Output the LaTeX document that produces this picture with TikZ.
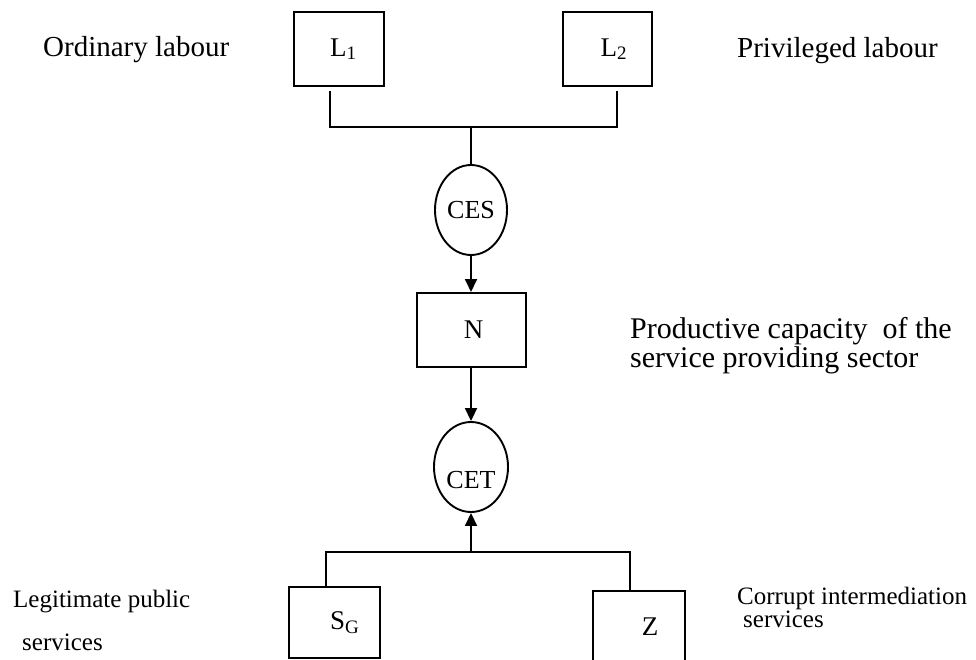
\documentclass[tikz,border=0pt]{standalone}
\usepackage{fontspec}
\setmainfont{Liberation Serif}
\usetikzlibrary{shapes.geometric,arrows.meta}
\begin{document}
\begin{tikzpicture}[x=1pt,y=-1pt,
  box/.style={draw,line width=2pt,inner sep=0pt,font=\fontsize{27}{27}\selectfont},
  oval/.style={draw,ellipse,line width=1.9pt,inner sep=0pt,minimum width=72pt,minimum height=90pt,font=\fontsize{26}{26}\selectfont},
  conn/.style={line width=1.8pt},
  arr/.style={conn,-{Triangle[length=13pt,width=12pt]}},
  biglab/.style={anchor=base west,inner sep=0pt,font=\fontsize{29}{29}\selectfont},
  midlab/.style={anchor=base west,inner sep=0pt,align=left,font=\fontsize{30}{27}\selectfont},
  smalllab/.style={anchor=base west,inner sep=0pt,font=\fontsize{25}{25}\selectfont},
  corrlab/.style={anchor=base west,inner sep=0pt,align=left,font=\fontsize{25}{20}\selectfont}]
\useasboundingbox (0,0) rectangle (976,660);
\clip (0,0) rectangle (976,660);
% boxes
\node[box,minimum width=90pt,minimum height=74pt] (L1) at (339,49)
  {\hspace*{8pt}L\raisebox{-3pt}{\fontsize{19}{19}\selectfont 1}};
\node[box,minimum width=89pt,minimum height=74pt] (L2) at (607.5,49)
  {\hspace*{12pt}L\raisebox{-3pt}{\fontsize{19}{19}\selectfont 2}};
\node[oval] (CES) at (471,210) {CES};
\node[box,minimum width=109pt,minimum height=74pt] (N) at (471,330) {\hspace*{5pt}N};
\node[oval,minimum width=74pt,text height=43pt,text depth=0pt] (CET) at (471,467) {CET};
\node[box,minimum width=91pt,minimum height=71pt] (SG) at (334.5,622.5)
  {\hspace*{20pt}S\raisebox{-4pt}{\fontsize{19}{19}\selectfont G}};
\node[box,minimum width=92pt,minimum height=71pt] (Z) at (639,626.5) {\hspace*{22pt}Z};
% connectors
\coordinate (j1) at (471,127);
\draw[conn] ([xshift=-9pt,yshift=-4pt]L1.south) |- (j1) -| ([xshift=9.5pt,yshift=-4pt]L2.south);
\draw[conn] (j1) -- (CES.north);
\draw[arr] (CES) -- (N);
\draw[arr] (N) -- (CET);
\coordinate (j2) at (471,552);
\draw[conn] ([xshift=-8.5pt]SG.north) |- (j2) -| ([xshift=-9pt]Z.north);
\draw[arr] (j2) -- (CET.south);
% labels
\node[biglab] (tOrd) at (43,57) {Ordinary labour};
\node[biglab] (tPriv) at (737,58) {Privileged labour};
\node[midlab] (tProd) at (630,367) {Productive capacity\ \ of the\\service providing sector};
\node[smalllab] (tLeg1) at (13,607) {Legitimate public};
\node[smalllab] (tLeg2) at (22,650) {services};
\node[corrlab] (tCor) at (737,627) {Corrupt intermediation\\\hspace*{6pt}services};
\end{tikzpicture}
\end{document}
